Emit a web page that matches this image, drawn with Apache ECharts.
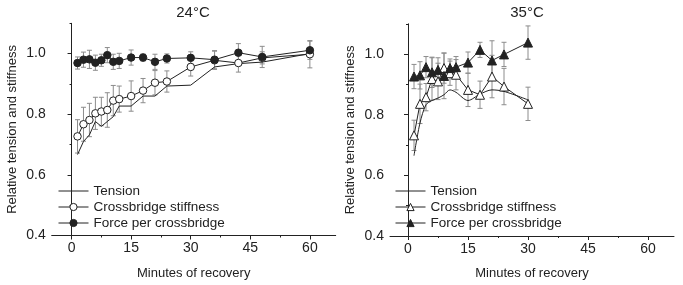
<!DOCTYPE html>
<html>
<head>
<meta charset="utf-8">
<script src="https://cdn.jsdelivr.net/npm/echarts@6/dist/echarts.min.js"></script>
<style>
  html, body { margin: 0; padding: 0; background: #fff; }
  #chart { width: 683px; height: 285px; }
</style>
</head>
<body>
<div id="chart"></div>
<script>
// 24°C panel
const minutes24 = [1.5, 3, 4.5, 6, 7.5, 9, 10.5, 12, 15, 18, 21, 24, 30, 36, 42, 48, 60];
const tension24 = [0.667, 0.71, 0.732, 0.776, 0.76, 0.776, 0.792, 0.827, 0.827, 0.86, 0.86, 0.893, 0.896, 0.956, 0.967, 0.972, 1.0];
const stiffness24 = [0.727, 0.767, 0.781, 0.803, 0.809, 0.814, 0.845, 0.85, 0.86, 0.878, 0.904, 0.908, 0.956, 0.978, 0.969, 0.986, 0.998];
const stiffnessErr24 = [0.055, 0.056, 0.055, 0.053, 0.047, 0.057, 0.05, 0.043, 0.05, 0.04, 0.04, 0.035, 0.03, 0.03, 0.03, 0.02, 0.045];
const force24 = [0.969, 0.98, 0.981, 0.97, 0.978, 0.995, 0.973, 0.976, 0.987, 0.987, 0.973, 0.984, 0.986, 0.98, 1.003, 0.989, 1.011];
const forceErr24 = [0.02, 0.025, 0.03, 0.025, 0.02, 0.025, 0.025, 0.025, 0.025, 0.012, 0.025, 0.015, 0.02, 0.03, 0.03, 0.035, 0.03];

// 35°C panel
const minutes35 = [1.5, 3, 4.5, 6, 7.5, 9, 10.5, 12, 15, 18, 21, 24, 30];
const tension35 = [0.665, 0.773, 0.833, 0.847, 0.855, 0.866, 0.882, 0.874, 0.847, 0.868, 0.882, 0.877, 0.849];
const stiffness35 = [0.732, 0.836, 0.858, 0.918, 0.91, 0.954, 0.937, 0.932, 0.882, 0.866, 0.926, 0.893, 0.836];
const stiffnessErr35 = [0.05, 0.065, 0.045, 0.07, 0.06, 0.05, 0.04, 0.05, 0.055, 0.045, 0.07, 0.06, 0.055];
const force35 = [0.926, 0.93, 0.957, 0.94, 0.948, 0.928, 0.954, 0.957, 0.972, 1.014, 0.979, 0.999, 1.038];
const forceErr35 = [0.04, 0.045, 0.035, 0.05, 0.04, 0.075, 0.03, 0.035, 0.035, 0.025, 0.065, 0.04, 0.055];

const xTicks = [0, 15, 30, 45, 60];
const xMinorTicks = [7.5, 22.5, 37.5, 52.5];
const yTicks = [0.4, 0.6, 0.8, 1.0];
const yMinorTicks = [0.5, 0.7, 0.9, 1.1];
const legendNames = ["Tension", "Crossbridge stiffness", "Force per crossbridge"];

const ink = "#222";
const FONT = "Liberation Sans, Arial, sans-serif";

function pairs(xs, ys) {
    return xs.map((x, i) => [x, ys[i]]);
}

function xAxes(grid, min, max) {
    return [
        {
            type: "value", gridIndex: grid, min: min, max: max, position: "bottom",
            name: "Minutes of recovery", nameLocation: "middle", nameGap: 31,
            nameTextStyle: { color: ink, fontSize: 13, fontFamily: FONT },
            axisLine: { show: true, lineStyle: { color: ink, width: 1 } },
            axisTick: { show: true, length: 4, customValues: xTicks, lineStyle: { color: ink } },
            axisLabel: { customValues: xTicks, margin: 6, color: ink, fontSize: 14, fontFamily: FONT },
            splitLine: { show: false }
        },
        {
            // minor ticks only
            type: "value", gridIndex: grid, min: min, max: max, position: "bottom",
            axisLine: { show: false },
            axisTick: { show: true, length: 2, customValues: xMinorTicks, lineStyle: { color: ink } },
            axisLabel: { show: false },
            splitLine: { show: false }
        }
    ];
}

function yAxes(grid) {
    return [
        {
            type: "value", gridIndex: grid, min: 0.4, max: 1.1, position: "left",
            name: "Relative tension and stiffness", nameLocation: "middle", nameGap: 33,
            nameTextStyle: { color: ink, fontSize: 13, fontFamily: FONT },
            axisLine: { show: true, lineStyle: { color: ink, width: 1 } },
            axisTick: { show: true, length: 4, customValues: yTicks, lineStyle: { color: ink } },
            axisLabel: {
                customValues: yTicks, margin: 6, color: ink, fontSize: 14, fontFamily: FONT,
                formatter: v => v.toFixed(1)
            },
            splitLine: { show: false }
        },
        {
            type: "value", gridIndex: grid, min: 0.4, max: 1.1, position: "left",
            axisLine: { show: false },
            axisTick: { show: true, length: 2, customValues: yMinorTicks, lineStyle: { color: ink } },
            axisLabel: { show: false },
            splitLine: { show: false }
        }
    ];
}

function errorBars(xIdx, yIdx, xs, ys, errs) {
    return {
        type: "custom",
        xAxisIndex: xIdx, yAxisIndex: yIdx,
        silent: true, z: 1,
        data: xs.map((x, i) => [x, ys[i] - errs[i], ys[i] + errs[i]]),
        encode: { x: 0, y: [1, 2] },
        renderItem: function (params, api) {
            const lo = api.coord([api.value(0), api.value(1)]);
            const hi = api.coord([api.value(0), api.value(2)]);
            const w = 2.5;
            const st = { stroke: "#8c8c8c", lineWidth: 1 };
            return {
                type: "group",
                children: [
                    { type: "line", shape: { x1: lo[0], y1: lo[1], x2: hi[0], y2: hi[1] }, style: st },
                    { type: "line", shape: { x1: lo[0] - w, y1: lo[1], x2: lo[0] + w, y2: lo[1] }, style: st },
                    { type: "line", shape: { x1: hi[0] - w, y1: hi[1], x2: hi[0] + w, y2: hi[1] }, style: st }
                ]
            };
        }
    };
}

function lineSeries(name, xIdx, yIdx, data, opts) {
    return Object.assign({
        name: name,
        type: "line",
        xAxisIndex: xIdx, yAxisIndex: yIdx,
        data: data,
        z: 3,
        animation: false,
        lineStyle: { color: ink, width: 1 },
        itemStyle: { color: ink, borderColor: ink, borderWidth: 1 },
        emphasis: { disabled: true }
    }, opts);
}

function legendFor(left, suffix) {
    return {
        orient: "vertical",
        left: left, top: 183,
        itemWidth: 30, itemHeight: 9, itemGap: 0,
        padding: 0,
        selectedMode: false,
        lineStyle: { width: 1, color: ink },
        itemStyle: { borderWidth: 1 },
        textStyle: { color: ink, fontSize: 13.5, fontFamily: FONT, lineHeight: 16 },
        formatter: name => name.replace(suffix, ""),
        data: [
            { name: legendNames[0] + suffix, itemStyle: { opacity: 0 } },
            { name: legendNames[1] + suffix },
            { name: legendNames[2] + suffix }
        ]
    };
}

const S24 = "";
const S35 = " (35°C)";

const chart = echarts.init(document.getElementById("chart"));

const option = {
    backgroundColor: "#fff",
    animation: false,
    title: [
        { text: "24°C", left: 193, top: 5, textAlign: "center", padding: 0,
          textStyle: { color: ink, fontSize: 15, fontWeight: "normal", fontFamily: FONT } },
        { text: "35°C", left: 527, top: 5, textAlign: "center", padding: 0,
          textStyle: { color: ink, fontSize: 15, fontWeight: "normal", fontFamily: FONT } }
    ],
    grid: [
        { left: 51.7, top: 23.3, width: 284, height: 212.2, containLabel: false },
        { left: 390, top: 23.8, width: 284, height: 212.2, containLabel: false }
    ],
    xAxis: [].concat(xAxes(0, -5, 66.5), xAxes(1, -4.5, 66.5)),
    yAxis: [].concat(yAxes(0), yAxes(1)),
    legend: [legendFor(58, S24), legendFor(395, S35)],
    series: [
        errorBars(0, 0, minutes24, stiffness24, stiffnessErr24),
        errorBars(0, 0, minutes24, force24, forceErr24),
        lineSeries(legendNames[0] + S24, 0, 0, pairs(minutes24, tension24), { symbol: "none" }),
        lineSeries(legendNames[1] + S24, 0, 0, pairs(minutes24, stiffness24), {
            symbol: "circle", symbolSize: 7.5,
            itemStyle: { color: "#fff", borderColor: ink, borderWidth: 1 }
        }),
        lineSeries(legendNames[2] + S24, 0, 0, pairs(minutes24, force24), {
            symbol: "circle", symbolSize: 7.5, z: 4
        }),

        errorBars(2, 2, minutes35, stiffness35, stiffnessErr35),
        errorBars(2, 2, minutes35, force35, forceErr35),
        lineSeries(legendNames[0] + S35, 2, 2, pairs(minutes35, tension35), { symbol: "none", smooth: 0.3 }),
        lineSeries(legendNames[1] + S35, 2, 2, pairs(minutes35, stiffness35), {
            symbol: "triangle", symbolSize: 9,
            itemStyle: { color: "#fff", borderColor: ink, borderWidth: 1 }
        }),
        lineSeries(legendNames[2] + S35, 2, 2, pairs(minutes35, force35), {
            symbol: "triangle", symbolSize: 9, z: 4
        })
    ]
};

chart.setOption(option);

window.onresize = function () {
    chart.resize();
};
</script>
</body>
</html>
